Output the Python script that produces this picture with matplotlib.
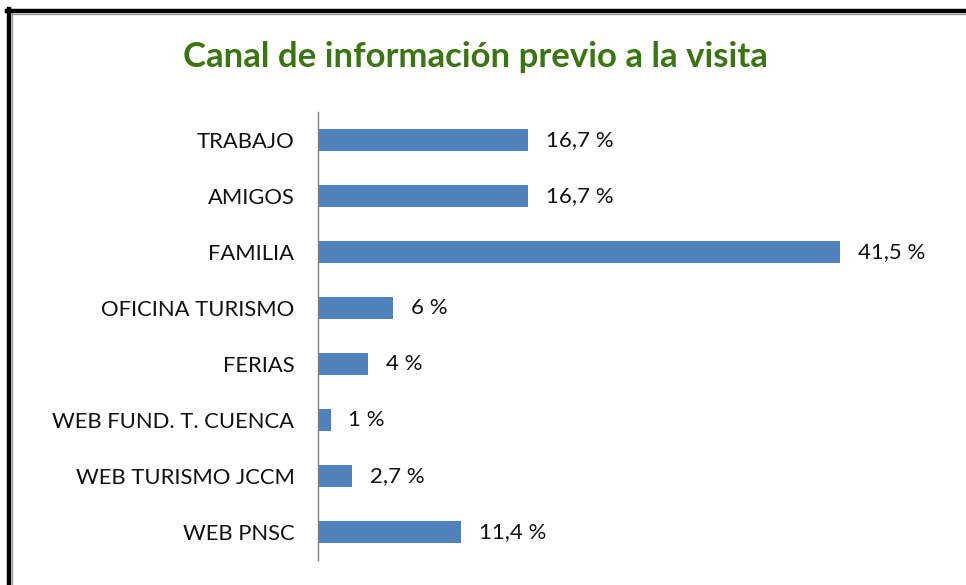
import matplotlib.pyplot as plt
from matplotlib.lines import Line2D

categories = ['TRABAJO', 'AMIGOS', 'FAMILIA', 'OFICINA TURISMO', 'FERIAS',
              'WEB FUND. T. CUENCA', 'WEB TURISMO JCCM', 'WEB PNSC']
values = [16.7, 16.7, 41.5, 6, 4, 1, 2.7, 11.4]
value_labels = ['16,7 %', '16,7 %', '41,5 %', '6 %', '4 %', '1 %', '2,7 %', '11,4 %']

W, H = 966, 585
fig = plt.figure(figsize=(W / 100, H / 100), dpi=100)
fig.patch.set_facecolor('white')

# axes placed in pixel terms
left, right, top, bottom = 318, 884, 112, 560
ax = fig.add_axes([left / W, (H - bottom) / H, (right - left) / W, (bottom - top) / H])

ypos = list(range(len(categories)))
ax.barh(ypos, values, height=0.41, color='#4F81BD', edgecolor='none')
ax.set_ylim(len(categories) - 0.5, -0.5)
ax.set_xlim(0, 45)

for y, v, lab in zip(ypos, values, value_labels):
    ax.text(v + 1.4, y, lab, va='center', ha='left', fontsize=16,
            family='Lato', color='#111111')

ax.set_yticks(ypos)
ax.set_yticklabels(categories, fontsize=15.8, family='Lato', color='#111111')
ax.tick_params(axis='y', length=0, pad=17)
ax.set_xticks([])
for s in ['top', 'right', 'bottom']:
    ax.spines[s].set_visible(False)
ax.spines['left'].set_color('#808080')
ax.spines['left'].set_linewidth(1)

fig.text(475 / W, 1 - 67 / H, 'Canal de información previo a la visita',
         ha='center', va='baseline', fontsize=25, fontweight='bold',
         family='Lato', color='#3B7412')

# frame at top and left edge
fig.add_artist(Line2D([9 / W, 9 / W], [0, 1 - 9 / H], transform=fig.transFigure,
                      color='black', lw=3.2))
fig.add_artist(Line2D([12 / W, 12 / W], [0, 1 - 12 / H], transform=fig.transFigure,
                      color='#999999', lw=1.0))
fig.add_artist(Line2D([7 / W, 1], [1 - 11 / H, 1 - 11 / H], transform=fig.transFigure,
                      color='black', lw=3.2))
fig.add_artist(Line2D([11 / W, 1], [1 - 14 / H, 1 - 14 / H], transform=fig.transFigure,
                      color='#999999', lw=1.0))

fig.savefig('out.png', dpi=100)
